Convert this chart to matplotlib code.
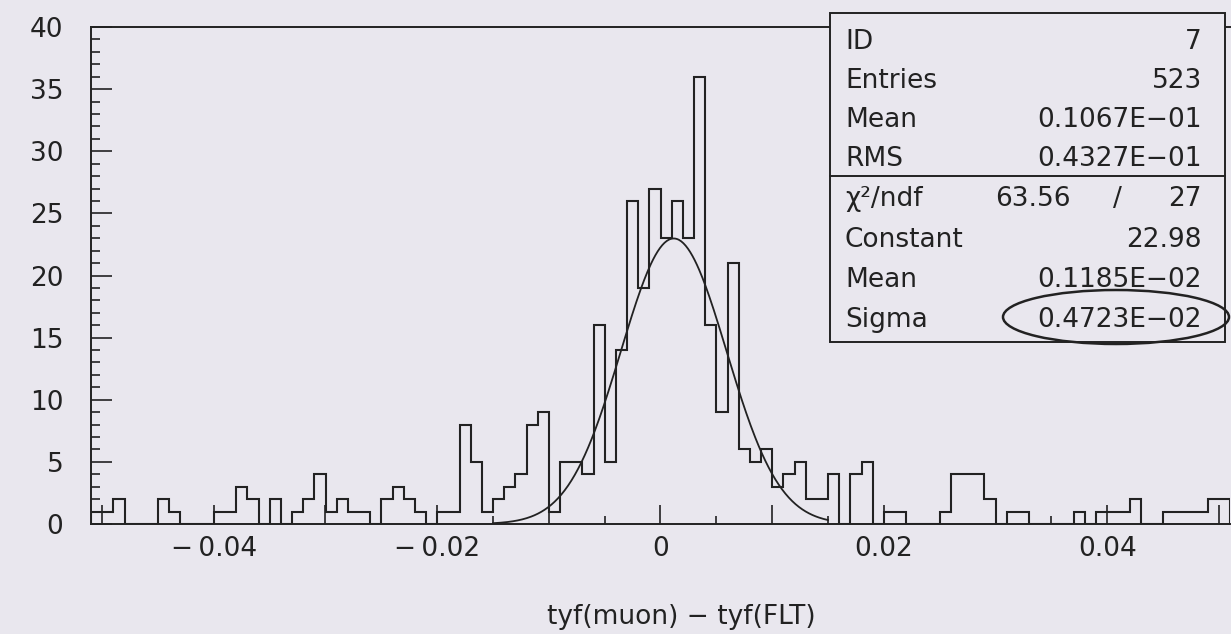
import matplotlib
matplotlib.use("Agg")
import matplotlib.pyplot as plt
import numpy as np
from matplotlib.patches import Ellipse, Rectangle
from matplotlib.ticker import FuncFormatter, MultipleLocator

# ── data ─────────────────────────────────────────────────────────────────────

X_MIN, X_MAX = -0.051, 0.051          # histogram range, 102 bins of 0.001
COUNTS = [
    1,                                              # [-0.051, -0.050]
    1, 2, 0, 0, 0, 2, 1, 0, 0, 0,                   # -0.050 .. -0.040
    1, 1, 3, 2, 0, 2, 0, 1, 2, 4,                   # -0.040 .. -0.030
    1, 2, 1, 1, 0, 2, 3, 2, 1, 0,                   # -0.030 .. -0.020
    1, 1, 8, 5, 1, 2, 3, 4, 8, 9,                   # -0.020 .. -0.010
    1, 5, 5, 4, 16, 5, 14, 26, 19, 27,              # -0.010 .. 0.000
    23, 26, 23, 36, 16, 9, 21, 6, 5, 6,             #  0.000 .. 0.010
    3, 4, 5, 2, 2, 4, 0, 4, 5, 0,                   #  0.010 .. 0.020
    1, 1, 0, 0, 0, 1, 4, 4, 4, 2,                   #  0.020 .. 0.030
    0, 1, 1, 0, 0, 0, 0, 1, 0, 1,                   #  0.030 .. 0.040
    1, 1, 2, 0, 0, 1, 1, 1, 1, 2,                   #  0.040 .. 0.050
    2,                                              # [0.050, 0.051]
]

# gaussian fit parameters from the stats box
FIT_CONST = 22.98
FIT_MEAN = 0.1185e-02
FIT_SIGMA = 0.4723e-02
FIT_RANGE = (-0.015, 0.015)

STAT_ROWS = [
    ("ID", "7"),
    ("Entries", "523"),
    ("Mean", "0.1067E\u221201"),
    ("RMS", "0.4327E\u221201"),
]
FIT_ROWS = [
    ("Constant", "22.98"),
    ("Mean", "0.1185E\u221202"),
    ("Sigma", "0.4723E\u221202"),
]
CHI2 = ("63.56", "27")

X_LABEL = "tyf(muon) \u2212 tyf(FLT)"

# ── style ─────────────────────────────────────────────────────────────────────

W, H = 1231, 634
BG = "#e9e7ee"
INK = "#222222"
FS = 19
plt.rcParams["font.family"] = ["DejaVu Sans"]


def fx(px):
    return px / W


def fy(py):
    return 1 - py / H


fig = plt.figure(figsize=(W / 100, H / 100), dpi=100, facecolor=BG)
ax = fig.add_axes([fx(91), fy(524), fx(1230) - fx(91), fy(27) - fy(524)])
ax.set_facecolor(BG)

edges = np.linspace(X_MIN, X_MAX, len(COUNTS) + 1)
ax.stairs(COUNTS, edges, color=INK, linewidth=1.5, baseline=0)

xs = np.linspace(FIT_RANGE[0], FIT_RANGE[1], 300)
ax.plot(xs, FIT_CONST * np.exp(-0.5 * ((xs - FIT_MEAN) / FIT_SIGMA) ** 2),
        color=INK, linewidth=1.3)

ax.set_xlim(X_MIN, X_MAX)
ax.set_ylim(0, 40)

for side in ("left", "bottom", "top"):
    ax.spines[side].set_color(INK)
    ax.spines[side].set_linewidth(1.4)
ax.spines["right"].set_visible(False)

ax.yaxis.set_major_locator(MultipleLocator(5))
ax.yaxis.set_minor_locator(MultipleLocator(1))
ax.xaxis.set_major_locator(MultipleLocator(0.01))
ax.xaxis.set_minor_locator(MultipleLocator(0.005))


def xfmt(v, _):
    if abs(round(v / 0.01)) % 2 == 1:
        return ""
    if abs(v) < 1e-9:
        return "0"
    if v < 0:
        return f"\u2212\u2009{abs(v):.2f}"
    return f"{v:.2f}"


ax.xaxis.set_major_formatter(FuncFormatter(xfmt))
ax.tick_params(axis="both", which="both", direction="in", color=INK,
               width=1.2, labelcolor=INK, labelsize=FS)
ax.tick_params(axis="y", which="major", length=15, pad=20)
ax.tick_params(axis="y", which="minor", length=6.5)
ax.tick_params(axis="x", which="major", length=14, pad=9)
ax.tick_params(axis="x", which="minor", length=6)
ax.set_xlabel(X_LABEL, fontsize=FS, color=INK)
ax.xaxis.set_label_coords((681 - 91) / (1230 - 91), (524 - 617) / (524 - 27))
ax.xaxis.label.set_va("center")

# ── stats box ────────────────────────────────────────────────────────────────

fig.patches.append(Rectangle((fx(830), fy(342)), fx(1225) - fx(830), fy(13) - fy(342),
                             transform=fig.transFigure, facecolor=BG,
                             edgecolor=INK, linewidth=1.4, zorder=5))
fig.lines.append(plt.Line2D([fx(830), fx(1225)], [fy(176), fy(176)],
                            transform=fig.transFigure, color=INK,
                            linewidth=1.4, zorder=6))

label_x, value_x = fx(845), fx(1202)
row_y = [42, 81, 120, 159]
for (lab, val), py in zip(STAT_ROWS, row_y):
    fig.text(label_x, fy(py), lab, fontsize=FS, color=INK, va="center", zorder=7)
    fig.text(value_x, fy(py), val, fontsize=FS, color=INK, va="center",
             ha="right", zorder=7)

fig.text(label_x, fy(199), "\u03c7\u00b2/ndf", fontsize=FS, color=INK,
         va="center", zorder=7)
fig.text(fx(1071), fy(199), CHI2[0], fontsize=FS, color=INK, va="center",
         ha="right", zorder=7)
fig.text(fx(1117), fy(199), "/", fontsize=FS, color=INK, va="center",
         ha="center", zorder=7)
fig.text(value_x, fy(199), CHI2[1], fontsize=FS, color=INK, va="center",
         ha="right", zorder=7)

row_y = [240, 280, 320]
for (lab, val), py in zip(FIT_ROWS, row_y):
    fig.text(label_x, fy(py), lab, fontsize=FS, color=INK, va="center", zorder=7)
    fig.text(value_x, fy(py), val, fontsize=FS, color=INK, va="center",
             ha="right", zorder=7)

# hand-drawn ring around the sigma value
fig.patches.append(Ellipse((fx(1116), fy(317)), fx(226), 54 / H,
                           transform=fig.transFigure, fill=False,
                           edgecolor=INK, linewidth=1.8, zorder=8))

fig.savefig("out.png", dpi=100, facecolor=BG)
